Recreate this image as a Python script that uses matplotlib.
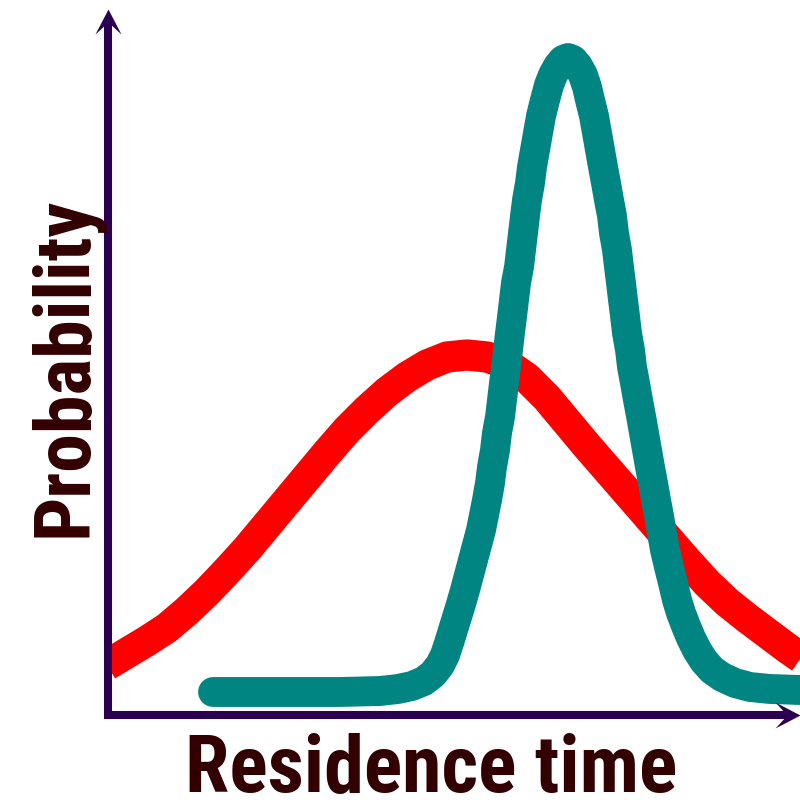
import matplotlib
matplotlib.use("Agg")
import matplotlib.pyplot as plt
from matplotlib import font_manager
from matplotlib.path import Path

# values, in arbitrary units (no scale on the chart)
# broad distribution (red)
red_x = [-1, 19, 39, 59, 79, 99, 119, 139, 159, 179, 199, 219, 239, 259, 279,
         299, 319, 339, 359, 379, 399, 419, 439, 459, 479, 499, 519, 539, 559,
         579, 599, 619, 639, 659, 679, 699]
red_y = [50, 62, 74, 87, 104, 123, 144, 166, 190, 214, 238, 262, 285, 305, 323,
         338, 350, 358, 360, 358, 351, 337, 317, 293, 269, 246, 223, 200, 177,
         154, 132, 113, 97, 82, 67, 53]

# narrow distribution (teal)
teal_x = [105, 152, 192, 232, 272, 290, 304, 316, 325, 332, 337, 341, 345, 349,
          353, 357, 361, 365, 369, 373, 376, 379, 382, 384, 387, 389, 392, 394,
          396, 398, 400, 402, 404, 406, 408, 411, 413, 415, 417, 419, 422, 424,
          427, 430, 433, 437, 441, 445, 450, 455, 460, 465, 470, 475, 479, 482,
          486, 489, 492, 495, 498, 501, 504, 506, 509, 511, 513, 515, 517, 519,
          522, 524, 527, 530, 533, 536, 539, 542, 545, 548, 551, 554, 557, 561,
          565, 569, 573, 578, 583, 589, 596, 604, 614, 627, 642, 662, 692, 712]
teal_y = [23, 23, 23, 23, 24, 26, 29, 34, 41, 50, 60, 72, 85, 98,
          111, 125, 140, 155, 170, 185, 200, 215, 232, 248, 265, 282, 298, 315,
          332, 348, 365, 382, 398, 415, 432, 448, 465, 482, 499, 515, 532, 548,
          565, 582, 599, 615, 630, 640, 649, 655, 657, 655, 649, 640, 628, 615,
          599, 582, 565, 548, 532, 515, 499, 482, 465, 448, 432, 415, 399, 382,
          365, 348, 332, 315, 299, 282, 265, 248, 232, 215, 199, 182, 165, 148,
          132, 115, 102, 89, 77, 65, 54, 45, 38, 32, 28, 26, 25, 25]

x_label = "Residence time"
y_label = "Probability"

axis_color = "#2b0050"
text_color = "#320000"
red_color = "#ff0000"
teal_color = "#008582"

fig = plt.figure(figsize=(8, 8), dpi=100)
ax = fig.add_axes([108 / 800, 85 / 800, 692 / 800, 705 / 800])
ax.set_xlim(0, 692)
ax.set_ylim(0, 705)
ax.axis("off")

ax.plot(red_x, red_y, color=red_color, lw=22.5, solid_capstyle="butt",
        solid_joinstyle="round", zorder=2)
ax.plot(teal_x, teal_y, color=teal_color, lw=21.5, solid_capstyle="round",
        solid_joinstyle="round", zorder=3)

# axes: plain lines with a notched arrow head at the end
head_up = Path([(0, 0), (0.52, -1), (0, -0.52), (-0.52, -1), (0, 0)],
               [Path.MOVETO, Path.LINETO, Path.LINETO, Path.LINETO, Path.CLOSEPOLY])
head_right = Path([(0, 0), (-1, 0.52), (-0.52, 0), (-1, -0.52), (0, 0)],
                  [Path.MOVETO, Path.LINETO, Path.LINETO, Path.LINETO, Path.CLOSEPOLY])
ax.plot([0, 0], [0, 690], color=axis_color, lw=5.8, solid_capstyle="projecting",
        clip_on=False, zorder=4)
ax.plot([0, 678], [0, 0], color=axis_color, lw=5.8, solid_capstyle="projecting",
        clip_on=False, zorder=4)
ax.plot([0], [706], marker=head_up, ms=36, color=axis_color, mew=0,
        clip_on=False, zorder=4)
ax.plot([692], [0], marker=head_right, ms=36, color=axis_color, mew=0,
        clip_on=False, zorder=4)

# pick a narrow bold face if there is one
families = {f.name for f in font_manager.fontManager.ttflist}
family = "DejaVu Sans"
stretch = "normal"
for cand in ["Liberation Sans Narrow", "Roboto Condensed", "Open Sans Condensed",
             "DejaVu Sans Condensed"]:
    if cand in families:
        family = cand
        break
else:
    if any(f.name == "DejaVu Sans" and f.stretch == "condensed"
           for f in font_manager.fontManager.ttflist):
        stretch = "condensed"

font = dict(family=[family, "DejaVu Sans"], weight="bold", stretch=stretch,
            size=57, color=text_color)
xt = fig.text(431 / 800, 8 / 800, x_label, ha="center", va="baseline", **font)
yt = fig.text(86 / 800, 433 / 800, y_label, ha="center", va="baseline",
              rotation=90, rotation_mode="anchor", **font)

# fit the labels to the length they have in the picture
renderer = fig.canvas.get_renderer()
w = xt.get_window_extent(renderer).width
xt.set_fontsize(min(60, 57 * 492 / w))
h = yt.get_window_extent(renderer).height
yt.set_fontsize(min(60, 57 * 340 / h))

fig.savefig("out.png", dpi=100)
